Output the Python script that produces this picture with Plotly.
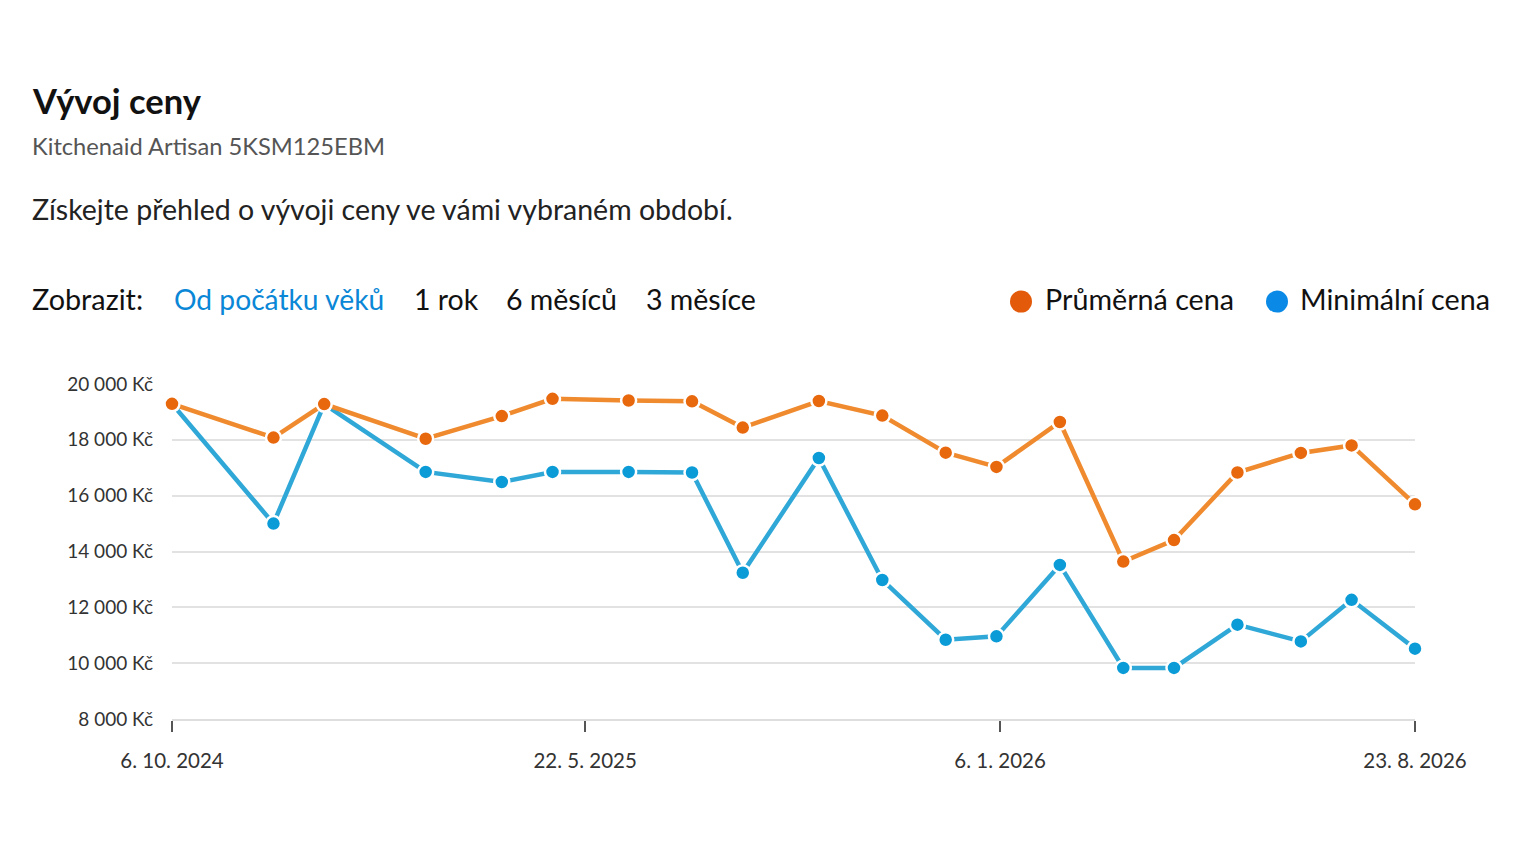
import plotly.graph_objects as go

# ---- data ----
dates = ["2024-10-06", "2024-12-01", "2024-12-29", "2025-02-23", "2025-04-06",
         "2025-05-04", "2025-06-15", "2025-07-20", "2025-08-17", "2025-09-28",
         "2025-11-02", "2025-12-07", "2026-01-04", "2026-02-08", "2026-03-15",
         "2026-04-12", "2026-05-17", "2026-06-21", "2026-07-19", "2026-08-23"]
avg_price = [19290, 18080, 19280, 18040, 18850, 19470, 19410, 19380, 18440, 19390,
             18870, 17540, 17030, 18640, 13640, 14410, 16830, 17530, 17800, 15690]
min_price = [19290, 15000, 19280, 16850, 16490, 16850, 16850, 16830, 13240, 17350,
             12980, 10840, 10960, 13520, 9830, 9830, 11380, 10780, 12270, 10520]
x_tickvals = ["2024-10-06", "2025-05-22", "2026-01-06", "2026-08-23"]
x_ticktext = ["6. 10. 2024", "22. 5. 2025", "6. 1. 2026", "23. 8. 2026"]
y_tickvals = [8000, 10000, 12000, 14000, 16000, 18000, 20000]
y_ticktext = ["8 000 Kč", "10 000 Kč", "12 000 Kč", "14 000 Kč", "16 000 Kč", "18 000 Kč", "20 000 Kč"]
series_names = ["Průměrná cena", "Minimální cena"]
period_options = ["Od počátku věků", "1 rok", "6 měsíců", "3 měsíce"]

FONT = "Lato"
OFF = 8  # page body margin
W, H = 1520 - OFF, 866 - OFF
# plot area in reference (page) pixels
L, R, T, B = 172, 1415, 383.5, 719

def px(x):
    return (x - L) / (R - L)

def py(y):
    return (B - y) / (B - T)

fig = go.Figure()
fig.add_trace(go.Scatter(
    x=dates, y=min_price, mode="lines+markers", name=series_names[1],
    line=dict(color="#2fa8d8", width=4.5),
    marker=dict(color="#0b9bd7", size=15, line=dict(color="white", width=2.5)),
    cliponaxis=False,
))
fig.add_trace(go.Scatter(
    x=dates, y=avg_price, mode="lines+markers", name=series_names[0],
    line=dict(color="#f08a2e", width=4.5),
    marker=dict(color="#e8680e", size=15, line=dict(color="white", width=2.5)),
    cliponaxis=False,
))

anns = []
def txt(text, x, y, size, color="#1a1a1a", bold=False):
    if bold:
        text = "<b>" + text + "</b>"
    anns.append(dict(text=text, xref="paper", yref="paper", x=px(x), y=py(y),
                     xanchor="left", yanchor="middle", showarrow=False,
                     font=dict(family=FONT, size=size, color=color)))

txt("Vývoj ceny", 30, 100, 34.5, "#111111", bold=True)
txt("Kitchenaid Artisan 5KSM125EBM", 30, 145, 23.7, "#555555")
txt("Získejte přehled o vývoji ceny ve vámi vybraném období.", 30, 208, 28.5, "#222222")
txt("Zobrazit:", 30, 298, 28.8, "#111111")
txt(period_options[0], 172, 298, 28.2, "#0a87d6")
txt(period_options[1], 412, 298, 28.5, "#111111")
txt(period_options[2], 504, 298, 28.5, "#111111")
txt(period_options[3], 644, 298, 28.5, "#111111")
txt(series_names[0], 1043, 298, 28.7, "#111111")
txt(series_names[1], 1298, 298, 28.7, "#111111")

shapes = []
for cx, col in [(1021, "#e35a0a"), (1277, "#0a8ae6")]:
    shapes.append(dict(type="circle", xref="paper", yref="paper",
                       xsizemode="pixel", ysizemode="pixel",
                       xanchor=px(cx), yanchor=py(301),
                       x0=-11, x1=11, y0=-11, y1=11,
                       fillcolor=col, line=dict(width=0)))

fig.update_layout(
    width=W, height=H, autosize=False,
    margin=dict(l=L - OFF, r=W - (R - OFF), t=T - OFF, b=H - (B - OFF)),
    paper_bgcolor="white", plot_bgcolor="white",
    showlegend=False,
    annotations=anns, shapes=shapes,
    font=dict(family=FONT, color="#333333"),
    xaxis=dict(type="date", range=[dates[0], dates[-1]],
               tickvals=x_tickvals, ticktext=x_ticktext,
               showgrid=False, zeroline=False,
               showline=True, linecolor="#dedede", linewidth=2,
               ticks="outside", ticklen=11, tickwidth=1.5, tickcolor="#555555",
               tickfont=dict(family=FONT, size=20.5, color="#333333"),
               ticklabelstandoff=11),
    yaxis=dict(range=[8000, 20000], tickvals=y_tickvals, ticktext=y_ticktext,
               showgrid=True, gridcolor="#e2e2e2", gridwidth=2,
               zeroline=False, showline=False,
               tickfont=dict(family=FONT, size=19, color="#333333"),
               ticklabelstandoff=18),
)

fig.write_html("out.html")
